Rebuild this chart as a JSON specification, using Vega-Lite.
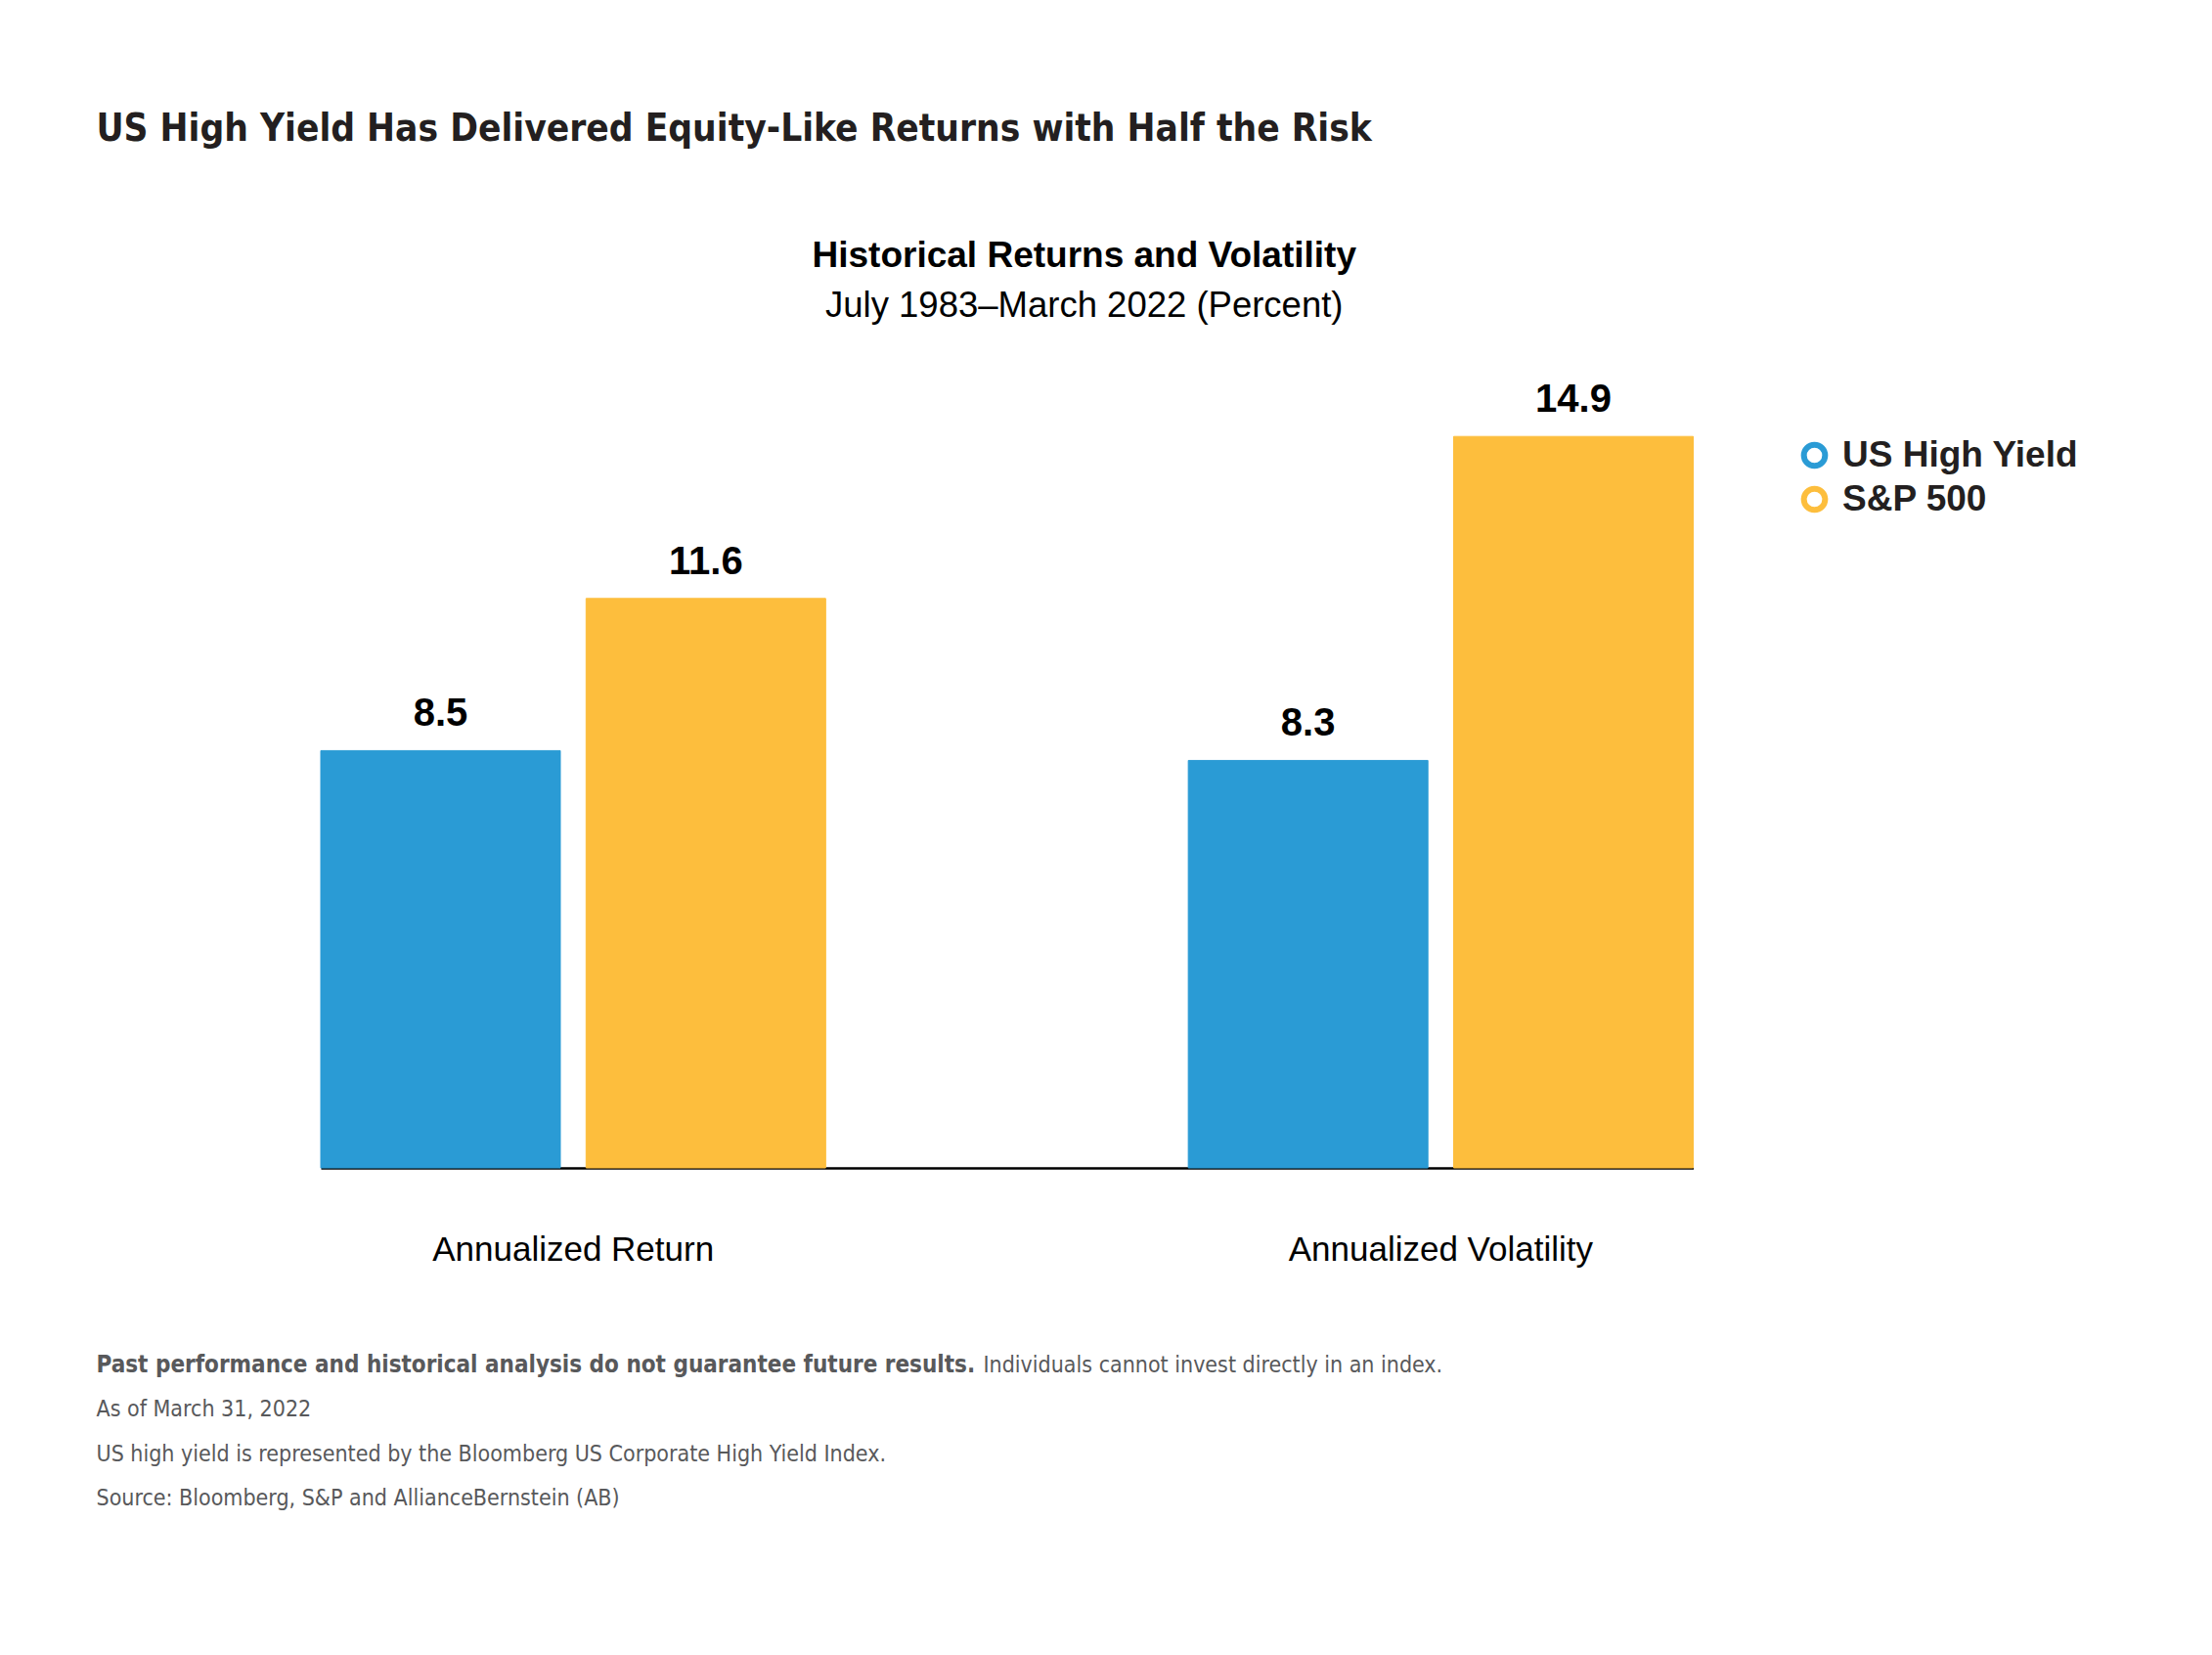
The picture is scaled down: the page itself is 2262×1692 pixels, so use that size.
{
  "$schema": "https://vega.github.io/schema/vega-lite/v6.json",
  "background": "white",
  "padding": {"left": 98, "top": 113, "right": 20, "bottom": 20},
  "title": {
    "text": "US High Yield Has Delivered Equity-Like Returns with Half the Risk",
    "anchor": "start",
    "frame": "group",
    "dx": -229.5,
    "font": "DejaVu Sans Condensed, sans-serif",
    "fontSize": 38.5,
    "fontWeight": "bold",
    "color": "#231f20",
    "offset": 90
  },
  "spacing": 89,
  "config": {"view": {"stroke": null}, "font": "Liberation Sans"},
  "vconcat": [
    {
      "width": 1403.5,
      "height": 803,
      "title": {
        "text": "Historical Returns and Volatility",
        "subtitle": "July 1983\u2013March 2022 (Percent)",
        "anchor": "middle",
        "frame": "group",
        "dx": 79,
        "font": "Liberation Sans",
        "subtitleFont": "Liberation Sans",
        "fontSize": 37,
        "subtitleFontSize": 36.5,
        "fontWeight": "bold",
        "subtitleFontWeight": "normal",
        "color": "#000000",
        "subtitleColor": "#000000",
        "subtitlePadding": 14,
        "offset": 57
      },
      "data": {
        "values": [
          {"measure": "Annualized Return", "series": "US High Yield", "value": 8.5},
          {"measure": "Annualized Return", "series": "S&P 500", "value": 11.6},
          {"measure": "Annualized Volatility", "series": "US High Yield", "value": 8.3},
          {"measure": "Annualized Volatility", "series": "S&P 500", "value": 14.9}
        ]
      },
      "encoding": {
        "x": {
          "field": "measure",
          "type": "nominal",
          "sort": ["Annualized Return", "Annualized Volatility"],
          "scale": {"paddingInner": 0.418, "paddingOuter": 0},
          "axis": {
            "title": null,
            "labelAngle": 0,
            "labelFont": "Liberation Sans",
            "labelFontSize": 35,
            "labelColor": "#000000",
            "labelBaseline": "alphabetic",
            "labelPadding": 94,
            "labelLimit": 0,
            "ticks": false,
            "domain": true,
            "domainColor": "#000000",
            "domainWidth": 2.5,
            "grid": false
          }
        },
        "xOffset": {
          "field": "series",
          "type": "nominal",
          "sort": ["US High Yield", "S&P 500"],
          "scale": {"paddingInner": 0.097, "paddingOuter": 0}
        },
        "y": {
          "field": "value",
          "type": "quantitative",
          "scale": {"domain": [0, 16], "nice": false},
          "axis": {
            "title": null,
            "labels": false,
            "ticks": false,
            "domain": false,
            "grid": false,
            "minExtent": 229.5,
            "maxExtent": 229.5
          }
        }
      },
      "layer": [
        {
          "mark": {"type": "bar"},
          "encoding": {
            "color": {
              "field": "series",
              "type": "nominal",
              "sort": ["US High Yield", "S&P 500"],
              "scale": {"range": ["#2a9bd5", "#fdbe3d"]},
              "legend": null
            },
            "stroke": {
              "field": "series",
              "type": "nominal",
              "scale": {"domain": ["US High Yield", "S&P 500"], "range": ["#2a9bd5", "#fdbe3d"]},
              "legend": {
                "title": null,
                "orient": "none",
                "legendX": 1509,
                "legendY": 56,
                "symbolType": "circle",
                "symbolSize": 470,
                "symbolStrokeWidth": 6,
                "symbolFillColor": "transparent",
                "labelFont": "Liberation Sans",
                "labelFontSize": 37,
                "labelFontWeight": "bold",
                "labelColor": "#231f20",
                "labelOffset": 10,
                "labelLimit": 0,
                "rowPadding": -2,
                "padding": 0
              }
            }
          }
        },
        {
          "mark": {
            "type": "text",
            "baseline": "alphabetic",
            "dy": -25,
            "font": "Liberation Sans",
            "fontSize": 40,
            "fontWeight": "bold",
            "color": "#000000"
          },
          "encoding": {
            "text": {"field": "value", "type": "quantitative", "format": ".1f"}
          }
        }
      ]
    },
    {
      "width": 1403.5,
      "height": 136,
      "data": {
        "values": [
          {"line": 1, "part": "bold", "text": "Past performance and historical analysis do not guarantee future results."},
          {"line": 1, "part": "rest", "text": "Individuals cannot invest directly in an index."},
          {"line": 2, "part": "plain", "text": "As of March 31, 2022"},
          {"line": 3, "part": "plain", "text": "US high yield is represented by the Bloomberg US Corporate High Yield Index."},
          {"line": 4, "part": "plain", "text": "Source: Bloomberg, S&P and AllianceBernstein (AB)"}
        ]
      },
      "encoding": {
        "y": {"field": "line", "type": "ordinal", "scale": {"type": "point", "padding": 0}, "axis": null},
        "text": {"field": "text", "type": "nominal"}
      },
      "layer": [
        {
          "transform": [{"filter": "datum.part === 'bold'"}],
          "mark": {"type": "text", "align": "left", "baseline": "alphabetic", "x": 0, "dx": -229.5, "font": "DejaVu Sans Condensed, sans-serif", "fontSize": 24, "fontWeight": "bold", "color": "#58595b"}
        },
        {
          "transform": [{"filter": "datum.part === 'rest'"}],
          "mark": {"type": "text", "align": "left", "baseline": "alphabetic", "x": 0, "dx": 677.5, "font": "DejaVu Sans Condensed, sans-serif", "fontSize": 23, "color": "#58595b"}
        },
        {
          "transform": [{"filter": "datum.part === 'plain'"}],
          "mark": {"type": "text", "align": "left", "baseline": "alphabetic", "x": 0, "dx": -229.5, "font": "DejaVu Sans Condensed, sans-serif", "fontSize": 23, "color": "#58595b"}
        }
      ]
    }
  ]
}
